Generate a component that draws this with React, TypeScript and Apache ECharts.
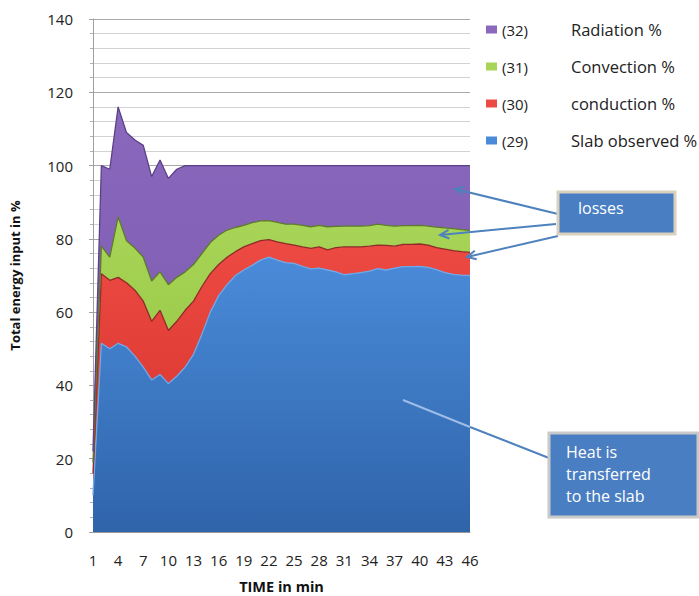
import React, { useEffect, useRef } from "react";
import * as echarts from "echarts";

// Time axis (minutes)
const minutes = [
  "1", "2", "3", "4", "5", "6", "7", "8", "9", "10",
  "11", "12", "13", "14", "15", "16", "17", "18", "19", "20",
  "21", "22", "23", "24", "25", "26", "27", "28", "29", "30",
  "31", "32", "33", "34", "35", "36", "37", "38", "39", "40",
  "41", "42", "43", "44", "45", "46",
];

// Share of total energy input, % (stacked bottom to top)
const slabObserved = [
  10, 51.5, 50, 51.5, 50.5, 48, 45, 41.5, 43, 40.5,
  42.5, 45, 48.5, 54, 60, 64.5, 67.5, 70, 71.5, 72.8,
  74.2, 75, 74.2, 73.5, 73.3, 72.5, 71.8, 72, 71.5, 71,
  70.2, 70.5, 70.8, 71.2, 71.9, 71.5, 72, 72.4, 72.4, 72.5,
  72.2, 71.6, 70.8, 70.3, 70.1, 70,
];
const conduction = [
  6, 19, 18.7, 18, 17.5, 18, 18, 16, 17.5, 14.5,
  15, 15.5, 14.5, 13, 10.5, 8.5, 7.5, 6.5, 6.3, 5.9,
  5.3, 4.8, 5, 5.2, 5, 5.3, 5.6, 5.8, 5.5, 6.6,
  7.6, 7.3, 7, 6.8, 6.4, 6.7, 6, 6.1, 6.1, 6.1,
  6.1, 6, 6.4, 6.5, 6.4, 6.3,
];
const convection = [
  3, 7.5, 6.3, 16.5, 11.5, 11.5, 12, 11, 10.5, 12.5,
  12, 10.5, 10, 9, 8.5, 8, 7.4, 6.6, 5.9, 5.7,
  5.4, 5.2, 5.3, 5.3, 5.7, 5.9, 5.9, 5.9, 6.3, 5.8,
  5.7, 5.7, 5.7, 5.6, 5.7, 5.5, 5.5, 5.1, 5.1, 5.1,
  5.2, 5.6, 5.8, 6, 6, 6,
];
const radiation = [
  3, 22, 24, 30, 29.5, 29.5, 30.5, 28.5, 30.5, 29,
  29.5, 29, 27, 24, 21, 19, 17.6, 16.9, 16.3, 15.6,
  15.1, 15, 15.5, 16, 16, 16.3, 16.7, 16.3, 16.7, 16.6,
  16.5, 16.5, 16.5, 16.4, 16, 16.3, 16.5, 16.4, 16.4, 16.3,
  16.5, 16.8, 17, 17.2, 17.5, 17.7,
];

// Legend entries (top to bottom) with their series numbers
const legendNames = ["Radiation %", "Convection %", "conduction %", "Slab observed %"];
const legendCodes = ["32", "31", "30", "29"];

const FONT = "'Open Sans', 'DejaVu Sans', sans-serif";

function grad(top: string, bottom: string) {
  return new echarts.graphic.LinearGradient(0, 0, 0, 1, [
    { offset: 0, color: top },
    { offset: 1, color: bottom },
  ]);
}

// Straight connector with an open arrow head at its end
function arrow(x1: number, y1: number, x2: number, y2: number, color: string, head = true) {
  const els: any[] = [
    {
      type: "line",
      shape: { x1, y1, x2, y2 },
      style: { stroke: color, lineWidth: 2 },
      z: 100,
    },
  ];
  if (head) {
    const a = Math.atan2(y1 - y2, x1 - x2);
    const L = 10;
    const s = 0.45;
    els.push({
      type: "polyline",
      shape: {
        points: [
          [x2 + L * Math.cos(a + s), y2 + L * Math.sin(a + s)],
          [x2, y2],
          [x2 + L * Math.cos(a - s), y2 + L * Math.sin(a - s)],
        ],
      },
      style: { stroke: color, lineWidth: 2, fill: null },
      z: 100,
    });
  }
  return els;
}

export default function App() {
  const ref = useRef<HTMLDivElement>(null);

  useEffect(() => {
    if (!ref.current) return;
    const chart = echarts.init(ref.current, undefined, { renderer: "svg" });

    const areaSeries = (
      name: string,
      data: number[],
      top: string,
      bottom: string,
      edge: string
    ) => ({
      name,
      type: "line",
      stack: "total",
      data,
      symbol: "none",
      lineStyle: { width: 1.3, color: edge },
      areaStyle: { opacity: 1, color: grad(top, bottom) },
      itemStyle: { color: top },
    });

    const boxBlue = "#4A7EC2";
    const arrowBlue = "#4F81BD";

    chart.setOption({
      animation: false,
      backgroundColor: "#ffffff",
      textStyle: { fontFamily: FONT },
      grid: {
        left: 93,
        top: 19,
        width: 377,
        height: 513,
        containLabel: false,
        outerBoundsMode: "none",
      },
      legend: {
        orient: "vertical",
        left: 481,
        top: 16,
        itemWidth: 11,
        itemHeight: 8,
        itemGap: 20,
        icon: "rect",
        data: legendNames,
        formatter: (name: string) => {
          const code = legendCodes[legendNames.indexOf(name)];
          return `{c|(${code})}{t|${name}}`;
        },
        textStyle: {
          fontFamily: FONT,
          color: "#222",
          rich: {
            c: { fontSize: 15, width: 69, color: "#222", fontFamily: FONT, lineHeight: 18 },
            t: { fontSize: 16.5, color: "#222", fontFamily: FONT, lineHeight: 18 },
          },
        },
      },
      xAxis: {
        type: "category",
        boundaryGap: false,
        data: minutes,
        name: "TIME in min",
        nameLocation: "middle",
        nameGap: 47,
        nameTextStyle: { fontSize: 14.5, fontWeight: "bold", color: "#111", fontFamily: FONT },
        axisLine: { show: true, lineStyle: { color: "#9A9A9A" } },
        axisTick: { show: false },
        axisLabel: { interval: 2, fontSize: 15, color: "#222", margin: 20, fontFamily: FONT },
      },
      yAxis: {
        type: "value",
        min: 0,
        max: 140,
        interval: 20,
        name: "Total energy input in %",
        nameLocation: "middle",
        nameGap: 72,
        nameRotate: 90,
        nameTextStyle: { fontSize: 13, fontWeight: "bold", color: "#111", fontFamily: FONT },
        axisLine: { show: true, lineStyle: { color: "#A0A0A0" } },
        axisTick: { show: true, length: 4, lineStyle: { color: "#A0A0A0" } },
        minorTick: { show: true, splitNumber: 5, length: 3, lineStyle: { color: "#B0B0B0" } },
        axisLabel: { fontSize: 15, color: "#222", margin: 20, fontFamily: FONT },
        splitLine: { show: true, lineStyle: { color: "#A8A8A8", width: 1.2 } },
        minorSplitLine: { show: true, lineStyle: { color: "#D2D2D2", width: 1 } },
      },
      series: [
        areaSeries("Slab observed %", slabObserved, "#4A8BD9", "#2F64AA", "#6FA8E8"),
        areaSeries("conduction %", conduction, "#EC4A42", "#D8322E", "#8E2A28"),
        areaSeries("Convection %", convection, "#A8D557", "#90C03E", "#5E7A2C"),
        areaSeries("Radiation %", radiation, "#8A68BC", "#7A58AE", "#5A4086"),
      ],
      graphic: [
        // "losses" callout
        ...arrow(558, 214, 455, 189, arrowBlue),
        ...arrow(556, 224, 440, 235, arrowBlue),
        ...arrow(558, 236, 467, 257, arrowBlue),
        {
          type: "rect",
          shape: { x: 558, y: 192, width: 117, height: 42 },
          style: { fill: boxBlue, stroke: "#D9D1BD", lineWidth: 3 },
          z: 101,
        },
        {
          type: "text",
          x: 578,
          y: 200,
          style: { text: "losses", fill: "#ffffff", fontSize: 16, fontFamily: FONT },
          z: 102,
        },
        // "Heat is transferred to the slab" callout
        ...arrow(403, 400, 470, 427, "#9DBDE6", false),
        ...arrow(470, 427, 549, 458, arrowBlue, false),
        {
          type: "rect",
          shape: { x: 549, y: 433, width: 149, height: 84 },
          style: { fill: boxBlue, stroke: "#C9C9C9", lineWidth: 3 },
          z: 101,
        },
        {
          type: "text",
          x: 566,
          y: 441,
          style: {
            text: "Heat is\ntransferred\nto the slab",
            fill: "#ffffff",
            fontSize: 16,
            lineHeight: 22,
            fontFamily: FONT,
          },
          z: 102,
        },
      ],
    });

    return () => chart.dispose();
  }, []);

  return <div ref={ref} style={{ width: 699, height: 596, position: "absolute", left: 0, top: 0 }} />;
}
